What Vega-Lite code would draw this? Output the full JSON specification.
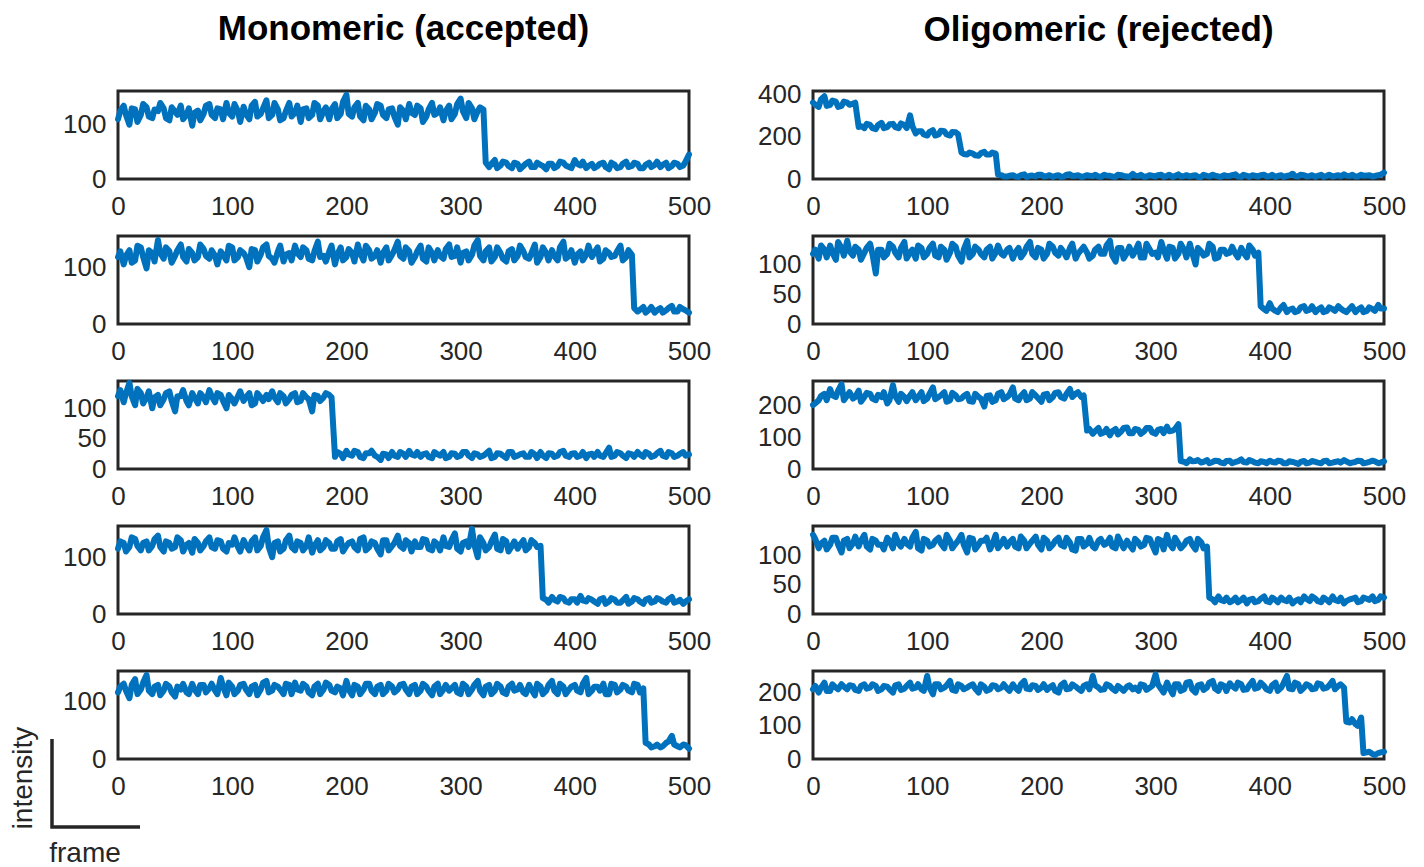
{
"$schema":"https://vega.github.io/schema/vega-lite/v6.json",
"padding":{"left":8,"top":10,"right":5,"bottom":5},
"background":"white",
"columns":2,
"spacing":{"row":57,"column":124},
"bounds":"flush",
"config":{
 "view":{"stroke":"#262626","strokeWidth":3},
 "axis":{"domain":false,"ticks":false,"grid":false,"labelFont":"Liberation Sans","labelFontSize":26,"labelColor":"#262626","labelFlush":false,"labelOverlap":false,"title":null},
 "axisX":{"labelPadding":14},
 "axisY":{"labelPadding":12},
 "title":{"font":"Liberation Sans","fontSize":35,"fontWeight":"bold","color":"#000000","anchor":"middle","frame":"group","baseline":"alphabetic"},
 "line":{"color":"#0072BD","strokeWidth":6,"strokeJoin":"round","strokeCap":"round"}
},
"datasets":{
"L1":[{"f":0,"v":110},{"f":5,"v":135},{"f":10,"v":100},{"f":15,"v":128},{"f":20,"v":118},{"f":25,"v":132},{"f":30,"v":112},{"f":35,"v":125},{"f":40,"v":130},{"f":45,"v":108},{"f":50,"v":124},{"f":55,"v":135},{"f":60,"v":118},{"f":65,"v":98},{"f":70,"v":126},{"f":75,"v":120},{"f":80,"v":138},{"f":85,"v":112},{"f":90,"v":128},{"f":95,"v":140},{"f":100,"v":115},{"f":105,"v":125},{"f":110,"v":133},{"f":115,"v":110},{"f":120,"v":142},{"f":125,"v":120},{"f":130,"v":145},{"f":135,"v":118},{"f":140,"v":128},{"f":145,"v":112},{"f":150,"v":140},{"f":155,"v":122},{"f":160,"v":105},{"f":165,"v":130},{"f":170,"v":118},{"f":175,"v":135},{"f":180,"v":125},{"f":185,"v":110},{"f":190,"v":138},{"f":195,"v":120},{"f":200,"v":155},{"f":205,"v":115},{"f":210,"v":140},{"f":215,"v":108},{"f":220,"v":128},{"f":225,"v":122},{"f":230,"v":135},{"f":235,"v":112},{"f":240,"v":130},{"f":245,"v":100},{"f":250,"v":125},{"f":255,"v":138},{"f":260,"v":118},{"f":265,"v":130},{"f":270,"v":115},{"f":275,"v":140},{"f":280,"v":122},{"f":285,"v":108},{"f":290,"v":135},{"f":295,"v":120},{"f":300,"v":148},{"f":305,"v":112},{"f":310,"v":130},{"f":315,"v":125},{"f":320,"v":128},{"f":325,"v":22},{"f":330,"v":35},{"f":335,"v":25},{"f":340,"v":30},{"f":345,"v":20},{"f":350,"v":28},{"f":355,"v":24},{"f":360,"v":32},{"f":365,"v":22},{"f":370,"v":26},{"f":375,"v":18},{"f":380,"v":28},{"f":385,"v":24},{"f":390,"v":30},{"f":395,"v":22},{"f":400,"v":35},{"f":405,"v":25},{"f":410,"v":20},{"f":415,"v":28},{"f":420,"v":24},{"f":425,"v":30},{"f":430,"v":18},{"f":435,"v":26},{"f":440,"v":22},{"f":445,"v":32},{"f":450,"v":24},{"f":455,"v":28},{"f":460,"v":20},{"f":465,"v":30},{"f":470,"v":26},{"f":475,"v":22},{"f":480,"v":30},{"f":485,"v":24},{"f":490,"v":28},{"f":495,"v":25},{"f":500,"v":45},
{"f":2,"v":125},{"f":7,"v":118},{"f":12,"v":130},{"f":17,"v":105},{"f":22,"v":138},{"f":27,"v":115},{"f":32,"v":128},{"f":37,"v":140},{"f":42,"v":112},{"f":47,"v":132},{"f":52,"v":118},{"f":57,"v":110},{"f":62,"v":130},{"f":67,"v":122},{"f":72,"v":108},{"f":77,"v":135},{"f":82,"v":118},{"f":87,"v":130},{"f":92,"v":110},{"f":97,"v":122},{"f":102,"v":138},{"f":107,"v":105},{"f":112,"v":120},{"f":117,"v":135},{"f":122,"v":115},{"f":127,"v":130},{"f":132,"v":112},{"f":137,"v":140},{"f":142,"v":108},{"f":147,"v":125},{"f":152,"v":115},{"f":157,"v":135},{"f":162,"v":128},{"f":167,"v":112},{"f":172,"v":140},{"f":177,"v":110},{"f":182,"v":132},{"f":187,"v":128},{"f":192,"v":112},{"f":197,"v":142},{"f":202,"v":120},{"f":207,"v":132},{"f":212,"v":115},{"f":217,"v":135},{"f":222,"v":110},{"f":227,"v":138},{"f":232,"v":118},{"f":237,"v":128},{"f":242,"v":115},{"f":247,"v":132},{"f":252,"v":110},{"f":257,"v":122},{"f":262,"v":135},{"f":267,"v":105},{"f":272,"v":128},{"f":277,"v":118},{"f":282,"v":132},{"f":287,"v":125},{"f":292,"v":110},{"f":297,"v":138},{"f":302,"v":125},{"f":307,"v":140},{"f":312,"v":110},{"f":317,"v":132},{"f":322,"v":30},{"f":327,"v":28},{"f":332,"v":20},{"f":337,"v":32},{"f":342,"v":24},{"f":347,"v":30},{"f":352,"v":18},{"f":357,"v":28},{"f":362,"v":22},{"f":367,"v":30},{"f":372,"v":24},{"f":377,"v":28},{"f":382,"v":20},{"f":387,"v":32},{"f":392,"v":25},{"f":397,"v":20},{"f":402,"v":28},{"f":407,"v":32},{"f":412,"v":24},{"f":417,"v":20},{"f":422,"v":28},{"f":427,"v":22},{"f":432,"v":30},{"f":437,"v":20},{"f":442,"v":28},{"f":447,"v":22},{"f":452,"v":30},{"f":457,"v":20},{"f":462,"v":26},{"f":467,"v":22},{"f":472,"v":32},{"f":477,"v":26},{"f":482,"v":20},{"f":487,"v":30},{"f":492,"v":22},{"f":497,"v":32}],
"L2":[{"f":0,"v":118},{"f":5,"v":105},{"f":10,"v":130},{"f":15,"v":112},{"f":20,"v":135},{"f":25,"v":98},{"f":30,"v":125},{"f":35,"v":148},{"f":40,"v":115},{"f":45,"v":128},{"f":50,"v":120},{"f":55,"v":140},{"f":60,"v":110},{"f":65,"v":125},{"f":70,"v":118},{"f":75,"v":132},{"f":80,"v":115},{"f":85,"v":120},{"f":90,"v":128},{"f":95,"v":112},{"f":100,"v":135},{"f":105,"v":118},{"f":110,"v":125},{"f":115,"v":100},{"f":120,"v":130},{"f":125,"v":122},{"f":130,"v":140},{"f":135,"v":115},{"f":140,"v":128},{"f":145,"v":110},{"f":150,"v":125},{"f":155,"v":138},{"f":160,"v":118},{"f":165,"v":130},{"f":170,"v":112},{"f":175,"v":145},{"f":180,"v":120},{"f":185,"v":128},{"f":190,"v":105},{"f":195,"v":135},{"f":200,"v":118},{"f":205,"v":125},{"f":210,"v":140},{"f":215,"v":112},{"f":220,"v":130},{"f":225,"v":120},{"f":230,"v":108},{"f":235,"v":135},{"f":240,"v":122},{"f":245,"v":145},{"f":250,"v":115},{"f":255,"v":128},{"f":260,"v":118},{"f":265,"v":138},{"f":270,"v":110},{"f":275,"v":125},{"f":280,"v":130},{"f":285,"v":115},{"f":290,"v":140},{"f":295,"v":120},{"f":300,"v":108},{"f":305,"v":128},{"f":310,"v":122},{"f":315,"v":148},{"f":320,"v":112},{"f":325,"v":135},{"f":330,"v":118},{"f":335,"v":125},{"f":340,"v":110},{"f":345,"v":132},{"f":350,"v":120},{"f":355,"v":128},{"f":360,"v":115},{"f":365,"v":140},{"f":370,"v":118},{"f":375,"v":125},{"f":380,"v":130},{"f":385,"v":112},{"f":390,"v":145},{"f":395,"v":120},{"f":400,"v":108},{"f":405,"v":128},{"f":410,"v":122},{"f":415,"v":118},{"f":420,"v":135},{"f":425,"v":115},{"f":430,"v":125},{"f":435,"v":120},{"f":440,"v":138},{"f":445,"v":118},{"f":450,"v":122},{"f":455,"v":22},{"f":460,"v":30},{"f":465,"v":25},{"f":470,"v":20},{"f":475,"v":28},{"f":480,"v":24},{"f":485,"v":32},{"f":490,"v":22},{"f":495,"v":26},{"f":500,"v":20},
{"f":2,"v":128},{"f":7,"v":120},{"f":12,"v":108},{"f":17,"v":138},{"f":22,"v":118},{"f":27,"v":130},{"f":32,"v":110},{"f":37,"v":125},{"f":42,"v":135},{"f":47,"v":108},{"f":52,"v":130},{"f":57,"v":118},{"f":62,"v":132},{"f":67,"v":112},{"f":72,"v":140},{"f":77,"v":120},{"f":82,"v":130},{"f":87,"v":105},{"f":92,"v":122},{"f":97,"v":138},{"f":102,"v":112},{"f":107,"v":130},{"f":112,"v":118},{"f":117,"v":132},{"f":122,"v":110},{"f":127,"v":135},{"f":132,"v":120},{"f":137,"v":108},{"f":142,"v":138},{"f":147,"v":122},{"f":152,"v":112},{"f":157,"v":125},{"f":162,"v":135},{"f":167,"v":115},{"f":172,"v":128},{"f":177,"v":118},{"f":182,"v":110},{"f":187,"v":138},{"f":192,"v":122},{"f":197,"v":112},{"f":202,"v":132},{"f":207,"v":110},{"f":212,"v":125},{"f":217,"v":138},{"f":222,"v":115},{"f":227,"v":130},{"f":232,"v":125},{"f":237,"v":112},{"f":242,"v":130},{"f":247,"v":120},{"f":252,"v":135},{"f":257,"v":108},{"f":262,"v":128},{"f":267,"v":115},{"f":272,"v":135},{"f":277,"v":112},{"f":282,"v":120},{"f":287,"v":132},{"f":292,"v":118},{"f":297,"v":135},{"f":302,"v":125},{"f":307,"v":112},{"f":312,"v":138},{"f":317,"v":120},{"f":322,"v":128},{"f":327,"v":110},{"f":332,"v":135},{"f":337,"v":115},{"f":342,"v":128},{"f":347,"v":112},{"f":352,"v":138},{"f":357,"v":118},{"f":362,"v":125},{"f":367,"v":108},{"f":372,"v":135},{"f":377,"v":112},{"f":382,"v":120},{"f":387,"v":135},{"f":392,"v":115},{"f":397,"v":130},{"f":402,"v":122},{"f":407,"v":112},{"f":412,"v":138},{"f":417,"v":125},{"f":422,"v":110},{"f":427,"v":130},{"f":432,"v":118},{"f":437,"v":128},{"f":442,"v":112},{"f":447,"v":130},{"f":452,"v":28},{"f":457,"v":25},{"f":462,"v":20},{"f":467,"v":30},{"f":472,"v":24},{"f":477,"v":20},{"f":482,"v":28},{"f":487,"v":22},{"f":492,"v":30},{"f":497,"v":24}],
"L3":[{"f":0,"v":120},{"f":5,"v":110},{"f":10,"v":142},{"f":15,"v":105},{"f":20,"v":125},{"f":25,"v":118},{"f":30,"v":100},{"f":35,"v":122},{"f":40,"v":115},{"f":45,"v":128},{"f":50,"v":95},{"f":55,"v":120},{"f":60,"v":112},{"f":65,"v":125},{"f":70,"v":108},{"f":75,"v":118},{"f":80,"v":130},{"f":85,"v":110},{"f":90,"v":122},{"f":95,"v":100},{"f":100,"v":115},{"f":105,"v":120},{"f":110,"v":112},{"f":115,"v":125},{"f":120,"v":108},{"f":125,"v":118},{"f":130,"v":122},{"f":135,"v":128},{"f":140,"v":110},{"f":145,"v":120},{"f":150,"v":115},{"f":155,"v":125},{"f":160,"v":112},{"f":165,"v":118},{"f":170,"v":95},{"f":175,"v":120},{"f":180,"v":118},{"f":185,"v":122},{"f":190,"v":20},{"f":195,"v":25},{"f":200,"v":30},{"f":205,"v":22},{"f":210,"v":28},{"f":215,"v":18},{"f":220,"v":26},{"f":225,"v":22},{"f":230,"v":15},{"f":235,"v":24},{"f":240,"v":28},{"f":245,"v":20},{"f":250,"v":25},{"f":255,"v":30},{"f":260,"v":22},{"f":265,"v":20},{"f":270,"v":26},{"f":275,"v":18},{"f":280,"v":24},{"f":285,"v":28},{"f":290,"v":20},{"f":295,"v":25},{"f":300,"v":22},{"f":305,"v":28},{"f":310,"v":18},{"f":315,"v":24},{"f":320,"v":22},{"f":325,"v":30},{"f":330,"v":20},{"f":335,"v":25},{"f":340,"v":18},{"f":345,"v":28},{"f":350,"v":22},{"f":355,"v":26},{"f":360,"v":20},{"f":365,"v":24},{"f":370,"v":28},{"f":375,"v":18},{"f":380,"v":25},{"f":385,"v":22},{"f":390,"v":30},{"f":395,"v":20},{"f":400,"v":26},{"f":405,"v":22},{"f":410,"v":18},{"f":415,"v":25},{"f":420,"v":28},{"f":425,"v":20},{"f":430,"v":35},{"f":435,"v":22},{"f":440,"v":26},{"f":445,"v":18},{"f":450,"v":24},{"f":455,"v":28},{"f":460,"v":20},{"f":465,"v":25},{"f":470,"v":22},{"f":475,"v":30},{"f":480,"v":20},{"f":485,"v":26},{"f":490,"v":22},{"f":495,"v":28},{"f":500,"v":24},
{"f":2,"v":130},{"f":7,"v":125},{"f":12,"v":120},{"f":17,"v":132},{"f":22,"v":108},{"f":27,"v":128},{"f":32,"v":118},{"f":37,"v":105},{"f":42,"v":125},{"f":47,"v":112},{"f":52,"v":120},{"f":57,"v":130},{"f":62,"v":105},{"f":67,"v":118},{"f":72,"v":125},{"f":77,"v":110},{"f":82,"v":120},{"f":87,"v":125},{"f":92,"v":112},{"f":97,"v":122},{"f":102,"v":108},{"f":107,"v":128},{"f":112,"v":118},{"f":117,"v":105},{"f":122,"v":125},{"f":127,"v":112},{"f":132,"v":115},{"f":137,"v":118},{"f":142,"v":125},{"f":147,"v":108},{"f":152,"v":122},{"f":157,"v":110},{"f":162,"v":125},{"f":167,"v":115},{"f":172,"v":122},{"f":177,"v":112},{"f":182,"v":125},{"f":187,"v":118},{"f":192,"v":28},{"f":197,"v":18},{"f":202,"v":24},{"f":207,"v":30},{"f":212,"v":20},{"f":217,"v":26},{"f":222,"v":30},{"f":227,"v":20},{"f":232,"v":25},{"f":237,"v":18},{"f":242,"v":22},{"f":247,"v":28},{"f":252,"v":20},{"f":257,"v":24},{"f":262,"v":28},{"f":267,"v":24},{"f":272,"v":20},{"f":277,"v":28},{"f":282,"v":22},{"f":287,"v":18},{"f":292,"v":26},{"f":297,"v":20},{"f":302,"v":28},{"f":307,"v":22},{"f":312,"v":26},{"f":317,"v":20},{"f":322,"v":25},{"f":327,"v":18},{"f":332,"v":26},{"f":337,"v":22},{"f":342,"v":28},{"f":347,"v":20},{"f":352,"v":24},{"f":357,"v":20},{"f":362,"v":28},{"f":367,"v":18},{"f":372,"v":22},{"f":377,"v":26},{"f":382,"v":20},{"f":387,"v":28},{"f":392,"v":22},{"f":397,"v":25},{"f":402,"v":20},{"f":407,"v":28},{"f":412,"v":24},{"f":417,"v":20},{"f":422,"v":22},{"f":427,"v":26},{"f":432,"v":20},{"f":437,"v":28},{"f":442,"v":22},{"f":447,"v":26},{"f":452,"v":20},{"f":457,"v":24},{"f":462,"v":28},{"f":467,"v":20},{"f":472,"v":26},{"f":477,"v":22},{"f":482,"v":28},{"f":487,"v":20},{"f":492,"v":25},{"f":497,"v":22}],
"L4":[{"f":0,"v":115},{"f":5,"v":125},{"f":10,"v":118},{"f":15,"v":132},{"f":20,"v":112},{"f":25,"v":128},{"f":30,"v":120},{"f":35,"v":138},{"f":40,"v":110},{"f":45,"v":125},{"f":50,"v":118},{"f":55,"v":130},{"f":60,"v":122},{"f":65,"v":108},{"f":70,"v":125},{"f":75,"v":120},{"f":80,"v":135},{"f":85,"v":115},{"f":90,"v":128},{"f":95,"v":110},{"f":100,"v":122},{"f":105,"v":118},{"f":110,"v":130},{"f":115,"v":112},{"f":120,"v":135},{"f":125,"v":120},{"f":130,"v":148},{"f":135,"v":100},{"f":140,"v":128},{"f":145,"v":115},{"f":150,"v":138},{"f":155,"v":112},{"f":160,"v":125},{"f":165,"v":120},{"f":170,"v":108},{"f":175,"v":130},{"f":180,"v":118},{"f":185,"v":125},{"f":190,"v":115},{"f":195,"v":132},{"f":200,"v":120},{"f":205,"v":128},{"f":210,"v":112},{"f":215,"v":135},{"f":220,"v":118},{"f":225,"v":125},{"f":230,"v":105},{"f":235,"v":130},{"f":240,"v":120},{"f":245,"v":138},{"f":250,"v":115},{"f":255,"v":125},{"f":260,"v":128},{"f":265,"v":118},{"f":270,"v":130},{"f":275,"v":112},{"f":280,"v":122},{"f":285,"v":135},{"f":290,"v":118},{"f":295,"v":142},{"f":300,"v":110},{"f":305,"v":128},{"f":310,"v":150},{"f":315,"v":100},{"f":320,"v":125},{"f":325,"v":118},{"f":330,"v":140},{"f":335,"v":112},{"f":340,"v":128},{"f":345,"v":120},{"f":350,"v":115},{"f":355,"v":130},{"f":360,"v":118},{"f":365,"v":125},{"f":370,"v":120},{"f":375,"v":25},{"f":380,"v":30},{"f":385,"v":22},{"f":390,"v":28},{"f":395,"v":20},{"f":400,"v":26},{"f":405,"v":32},{"f":410,"v":22},{"f":415,"v":25},{"f":420,"v":18},{"f":425,"v":28},{"f":430,"v":22},{"f":435,"v":25},{"f":440,"v":20},{"f":445,"v":30},{"f":450,"v":22},{"f":455,"v":26},{"f":460,"v":18},{"f":465,"v":28},{"f":470,"v":22},{"f":475,"v":25},{"f":480,"v":20},{"f":485,"v":30},{"f":490,"v":22},{"f":495,"v":18},{"f":500,"v":26},
{"f":2,"v":128},{"f":7,"v":110},{"f":12,"v":135},{"f":17,"v":120},{"f":22,"v":125},{"f":27,"v":112},{"f":32,"v":132},{"f":37,"v":118},{"f":42,"v":128},{"f":47,"v":115},{"f":52,"v":135},{"f":57,"v":110},{"f":62,"v":125},{"f":67,"v":132},{"f":72,"v":112},{"f":77,"v":128},{"f":82,"v":118},{"f":87,"v":130},{"f":92,"v":115},{"f":97,"v":125},{"f":102,"v":135},{"f":107,"v":110},{"f":112,"v":122},{"f":117,"v":128},{"f":122,"v":112},{"f":127,"v":135},{"f":132,"v":118},{"f":137,"v":125},{"f":142,"v":110},{"f":147,"v":130},{"f":152,"v":118},{"f":157,"v":128},{"f":162,"v":112},{"f":167,"v":135},{"f":172,"v":120},{"f":177,"v":112},{"f":182,"v":130},{"f":187,"v":115},{"f":192,"v":128},{"f":197,"v":110},{"f":202,"v":125},{"f":207,"v":118},{"f":212,"v":132},{"f":217,"v":112},{"f":222,"v":128},{"f":227,"v":115},{"f":232,"v":130},{"f":237,"v":112},{"f":242,"v":125},{"f":247,"v":120},{"f":252,"v":130},{"f":257,"v":110},{"f":262,"v":118},{"f":267,"v":132},{"f":272,"v":115},{"f":277,"v":128},{"f":282,"v":112},{"f":287,"v":120},{"f":292,"v":130},{"f":297,"v":115},{"f":302,"v":125},{"f":307,"v":118},{"f":312,"v":122},{"f":317,"v":135},{"f":322,"v":112},{"f":327,"v":128},{"f":332,"v":115},{"f":337,"v":132},{"f":342,"v":110},{"f":347,"v":128},{"f":352,"v":122},{"f":357,"v":112},{"f":362,"v":130},{"f":367,"v":118},{"f":372,"v":28},{"f":377,"v":20},{"f":382,"v":25},{"f":387,"v":30},{"f":392,"v":22},{"f":397,"v":26},{"f":402,"v":20},{"f":407,"v":24},{"f":412,"v":28},{"f":417,"v":22},{"f":422,"v":26},{"f":427,"v":18},{"f":432,"v":28},{"f":437,"v":20},{"f":442,"v":24},{"f":447,"v":18},{"f":452,"v":28},{"f":457,"v":22},{"f":462,"v":25},{"f":467,"v":20},{"f":472,"v":28},{"f":477,"v":22},{"f":482,"v":26},{"f":487,"v":20},{"f":492,"v":25},{"f":497,"v":22}],
"L5":[{"f":0,"v":115},{"f":5,"v":130},{"f":10,"v":105},{"f":15,"v":138},{"f":20,"v":120},{"f":25,"v":145},{"f":30,"v":112},{"f":35,"v":128},{"f":40,"v":118},{"f":45,"v":125},{"f":50,"v":108},{"f":55,"v":120},{"f":60,"v":115},{"f":65,"v":130},{"f":70,"v":112},{"f":75,"v":128},{"f":80,"v":122},{"f":85,"v":118},{"f":90,"v":140},{"f":95,"v":110},{"f":100,"v":125},{"f":105,"v":118},{"f":110,"v":130},{"f":115,"v":112},{"f":120,"v":128},{"f":125,"v":120},{"f":130,"v":135},{"f":135,"v":118},{"f":140,"v":125},{"f":145,"v":112},{"f":150,"v":128},{"f":155,"v":132},{"f":160,"v":118},{"f":165,"v":125},{"f":170,"v":110},{"f":175,"v":130},{"f":180,"v":120},{"f":185,"v":128},{"f":190,"v":115},{"f":195,"v":122},{"f":200,"v":135},{"f":205,"v":110},{"f":210,"v":125},{"f":215,"v":120},{"f":220,"v":130},{"f":225,"v":112},{"f":230,"v":128},{"f":235,"v":118},{"f":240,"v":125},{"f":245,"v":120},{"f":250,"v":130},{"f":255,"v":112},{"f":260,"v":128},{"f":265,"v":118},{"f":270,"v":125},{"f":275,"v":110},{"f":280,"v":130},{"f":285,"v":120},{"f":290,"v":118},{"f":295,"v":128},{"f":300,"v":112},{"f":305,"v":125},{"f":310,"v":120},{"f":315,"v":135},{"f":320,"v":110},{"f":325,"v":128},{"f":330,"v":118},{"f":335,"v":125},{"f":340,"v":112},{"f":345,"v":130},{"f":350,"v":120},{"f":355,"v":115},{"f":360,"v":128},{"f":365,"v":110},{"f":370,"v":125},{"f":375,"v":118},{"f":380,"v":135},{"f":385,"v":112},{"f":390,"v":125},{"f":395,"v":120},{"f":400,"v":128},{"f":405,"v":115},{"f":410,"v":140},{"f":415,"v":118},{"f":420,"v":125},{"f":425,"v":130},{"f":430,"v":112},{"f":435,"v":128},{"f":440,"v":120},{"f":445,"v":125},{"f":450,"v":115},{"f":455,"v":128},{"f":460,"v":122},{"f":465,"v":25},{"f":470,"v":22},{"f":475,"v":20},{"f":480,"v":28},{"f":485,"v":40},{"f":490,"v":22},{"f":495,"v":25},{"f":500,"v":18},
{"f":2,"v":125},{"f":7,"v":118},{"f":12,"v":128},{"f":17,"v":112},{"f":22,"v":132},{"f":27,"v":118},{"f":32,"v":125},{"f":37,"v":110},{"f":42,"v":130},{"f":47,"v":115},{"f":52,"v":125},{"f":57,"v":130},{"f":62,"v":112},{"f":67,"v":120},{"f":72,"v":128},{"f":77,"v":115},{"f":82,"v":130},{"f":87,"v":112},{"f":92,"v":125},{"f":97,"v":132},{"f":102,"v":112},{"f":107,"v":128},{"f":112,"v":120},{"f":117,"v":125},{"f":122,"v":110},{"f":127,"v":132},{"f":132,"v":115},{"f":137,"v":128},{"f":142,"v":120},{"f":147,"v":130},{"f":152,"v":112},{"f":157,"v":120},{"f":162,"v":130},{"f":167,"v":115},{"f":172,"v":125},{"f":177,"v":112},{"f":182,"v":132},{"f":187,"v":118},{"f":192,"v":125},{"f":197,"v":110},{"f":202,"v":120},{"f":207,"v":128},{"f":212,"v":112},{"f":217,"v":130},{"f":222,"v":118},{"f":227,"v":125},{"f":232,"v":112},{"f":237,"v":130},{"f":242,"v":115},{"f":247,"v":128},{"f":252,"v":120},{"f":257,"v":125},{"f":262,"v":112},{"f":267,"v":130},{"f":272,"v":118},{"f":277,"v":125},{"f":282,"v":112},{"f":287,"v":128},{"f":292,"v":122},{"f":297,"v":115},{"f":302,"v":130},{"f":307,"v":112},{"f":312,"v":128},{"f":317,"v":118},{"f":322,"v":125},{"f":327,"v":112},{"f":332,"v":130},{"f":337,"v":115},{"f":342,"v":125},{"f":347,"v":118},{"f":352,"v":128},{"f":357,"v":112},{"f":362,"v":120},{"f":367,"v":130},{"f":372,"v":112},{"f":377,"v":128},{"f":382,"v":118},{"f":387,"v":130},{"f":392,"v":112},{"f":397,"v":125},{"f":402,"v":118},{"f":407,"v":130},{"f":412,"v":112},{"f":417,"v":125},{"f":422,"v":118},{"f":427,"v":112},{"f":432,"v":130},{"f":437,"v":115},{"f":442,"v":128},{"f":447,"v":118},{"f":452,"v":130},{"f":457,"v":115},{"f":462,"v":28},{"f":467,"v":20},{"f":472,"v":25},{"f":477,"v":22},{"f":482,"v":30},{"f":487,"v":25},{"f":492,"v":20},{"f":497,"v":24}],
"R1":[{"f":0,"v":360},{"f":5,"v":340},{"f":10,"v":390},{"f":15,"v":350},{"f":20,"v":365},{"f":25,"v":345},{"f":30,"v":360},{"f":35,"v":355},{"f":40,"v":245},{"f":45,"v":240},{"f":50,"v":255},{"f":55,"v":235},{"f":60,"v":265},{"f":65,"v":245},{"f":70,"v":260},{"f":75,"v":240},{"f":80,"v":255},{"f":85,"v":300},{"f":90,"v":215},{"f":95,"v":225},{"f":100,"v":205},{"f":105,"v":230},{"f":110,"v":210},{"f":115,"v":225},{"f":120,"v":205},{"f":125,"v":220},{"f":130,"v":125},{"f":135,"v":115},{"f":140,"v":120},{"f":145,"v":110},{"f":150,"v":128},{"f":155,"v":115},{"f":160,"v":120},{"f":165,"v":18},{"f":170,"v":12},{"f":175,"v":18},{"f":180,"v":10},{"f":185,"v":22},{"f":190,"v":15},{"f":195,"v":12},{"f":200,"v":20},{"f":205,"v":14},{"f":210,"v":10},{"f":215,"v":18},{"f":220,"v":12},{"f":225,"v":22},{"f":230,"v":15},{"f":235,"v":10},{"f":240,"v":18},{"f":245,"v":14},{"f":250,"v":12},{"f":255,"v":20},{"f":260,"v":15},{"f":265,"v":10},{"f":270,"v":18},{"f":275,"v":12},{"f":280,"v":24},{"f":285,"v":14},{"f":290,"v":10},{"f":295,"v":18},{"f":300,"v":12},{"f":305,"v":20},{"f":310,"v":15},{"f":315,"v":10},{"f":320,"v":22},{"f":325,"v":14},{"f":330,"v":12},{"f":335,"v":18},{"f":340,"v":10},{"f":345,"v":15},{"f":350,"v":20},{"f":355,"v":12},{"f":360,"v":18},{"f":365,"v":14},{"f":370,"v":22},{"f":375,"v":10},{"f":380,"v":15},{"f":385,"v":18},{"f":390,"v":12},{"f":395,"v":20},{"f":400,"v":14},{"f":405,"v":10},{"f":410,"v":18},{"f":415,"v":15},{"f":420,"v":25},{"f":425,"v":12},{"f":430,"v":18},{"f":435,"v":14},{"f":440,"v":10},{"f":445,"v":20},{"f":450,"v":15},{"f":455,"v":12},{"f":460,"v":18},{"f":465,"v":22},{"f":470,"v":14},{"f":475,"v":12},{"f":480,"v":20},{"f":485,"v":16},{"f":490,"v":12},{"f":495,"v":18},{"f":500,"v":30},
{"f":2,"v":350},{"f":7,"v":375},{"f":12,"v":345},{"f":17,"v":370},{"f":22,"v":340},{"f":27,"v":365},{"f":32,"v":350},{"f":37,"v":360},{"f":42,"v":250},{"f":47,"v":260},{"f":52,"v":240},{"f":57,"v":255},{"f":62,"v":240},{"f":67,"v":258},{"f":72,"v":245},{"f":77,"v":262},{"f":82,"v":240},{"f":87,"v":250},{"f":92,"v":225},{"f":97,"v":210},{"f":102,"v":222},{"f":107,"v":205},{"f":112,"v":228},{"f":117,"v":210},{"f":122,"v":222},{"f":127,"v":212},{"f":132,"v":118},{"f":137,"v":125},{"f":142,"v":112},{"f":147,"v":122},{"f":152,"v":115},{"f":157,"v":125},{"f":162,"v":20},{"f":167,"v":12},{"f":172,"v":15},{"f":177,"v":12},{"f":182,"v":18},{"f":187,"v":10},{"f":192,"v":16},{"f":197,"v":20},{"f":202,"v":12},{"f":207,"v":18},{"f":212,"v":14},{"f":217,"v":10},{"f":222,"v":20},{"f":227,"v":14},{"f":232,"v":18},{"f":237,"v":12},{"f":242,"v":15},{"f":247,"v":20},{"f":252,"v":10},{"f":257,"v":16},{"f":262,"v":12},{"f":267,"v":20},{"f":272,"v":14},{"f":277,"v":10},{"f":282,"v":16},{"f":287,"v":20},{"f":292,"v":12},{"f":297,"v":15},{"f":302,"v":18},{"f":307,"v":10},{"f":312,"v":20},{"f":317,"v":14},{"f":322,"v":12},{"f":327,"v":18},{"f":332,"v":15},{"f":337,"v":10},{"f":342,"v":20},{"f":347,"v":12},{"f":352,"v":16},{"f":357,"v":10},{"f":362,"v":14},{"f":367,"v":18},{"f":372,"v":12},{"f":377,"v":20},{"f":382,"v":10},{"f":387,"v":15},{"f":392,"v":18},{"f":397,"v":12},{"f":402,"v":20},{"f":407,"v":14},{"f":412,"v":10},{"f":417,"v":16},{"f":422,"v":14},{"f":427,"v":20},{"f":432,"v":12},{"f":437,"v":18},{"f":442,"v":15},{"f":447,"v":10},{"f":452,"v":20},{"f":457,"v":14},{"f":462,"v":12},{"f":467,"v":16},{"f":472,"v":20},{"f":477,"v":12},{"f":482,"v":15},{"f":487,"v":18},{"f":492,"v":14},{"f":497,"v":20}],
"R2":[{"f":0,"v":118},{"f":5,"v":110},{"f":10,"v":125},{"f":15,"v":132},{"f":20,"v":108},{"f":25,"v":128},{"f":30,"v":140},{"f":35,"v":115},{"f":40,"v":125},{"f":45,"v":120},{"f":50,"v":135},{"f":55,"v":85},{"f":60,"v":125},{"f":65,"v":118},{"f":70,"v":130},{"f":75,"v":112},{"f":80,"v":138},{"f":85,"v":120},{"f":90,"v":110},{"f":95,"v":128},{"f":100,"v":118},{"f":105,"v":135},{"f":110,"v":112},{"f":115,"v":125},{"f":120,"v":120},{"f":125,"v":130},{"f":130,"v":105},{"f":135,"v":140},{"f":140,"v":118},{"f":145,"v":125},{"f":150,"v":112},{"f":155,"v":130},{"f":160,"v":120},{"f":165,"v":118},{"f":170,"v":125},{"f":175,"v":110},{"f":180,"v":128},{"f":185,"v":120},{"f":190,"v":138},{"f":195,"v":112},{"f":200,"v":125},{"f":205,"v":118},{"f":210,"v":130},{"f":215,"v":115},{"f":220,"v":120},{"f":225,"v":128},{"f":230,"v":110},{"f":235,"v":125},{"f":240,"v":120},{"f":245,"v":115},{"f":250,"v":130},{"f":255,"v":118},{"f":260,"v":140},{"f":265,"v":105},{"f":270,"v":128},{"f":275,"v":120},{"f":280,"v":115},{"f":285,"v":135},{"f":290,"v":112},{"f":295,"v":125},{"f":300,"v":120},{"f":305,"v":138},{"f":310,"v":110},{"f":315,"v":128},{"f":320,"v":118},{"f":325,"v":125},{"f":330,"v":135},{"f":335,"v":100},{"f":340,"v":122},{"f":345,"v":118},{"f":350,"v":130},{"f":355,"v":112},{"f":360,"v":125},{"f":365,"v":120},{"f":370,"v":118},{"f":375,"v":128},{"f":380,"v":112},{"f":385,"v":125},{"f":390,"v":120},{"f":395,"v":25},{"f":400,"v":35},{"f":405,"v":22},{"f":410,"v":28},{"f":415,"v":20},{"f":420,"v":26},{"f":425,"v":22},{"f":430,"v":30},{"f":435,"v":24},{"f":440,"v":20},{"f":445,"v":28},{"f":450,"v":22},{"f":455,"v":25},{"f":460,"v":30},{"f":465,"v":22},{"f":470,"v":26},{"f":475,"v":20},{"f":480,"v":28},{"f":485,"v":22},{"f":490,"v":25},{"f":495,"v":32},{"f":500,"v":26},
{"f":2,"v":125},{"f":7,"v":132},{"f":12,"v":112},{"f":17,"v":120},{"f":22,"v":138},{"f":27,"v":115},{"f":32,"v":122},{"f":37,"v":130},{"f":42,"v":108},{"f":47,"v":128},{"f":52,"v":118},{"f":57,"v":125},{"f":62,"v":112},{"f":67,"v":135},{"f":72,"v":120},{"f":77,"v":128},{"f":82,"v":110},{"f":87,"v":125},{"f":92,"v":132},{"f":97,"v":112},{"f":102,"v":128},{"f":107,"v":115},{"f":112,"v":130},{"f":117,"v":108},{"f":122,"v":135},{"f":127,"v":115},{"f":132,"v":125},{"f":137,"v":112},{"f":142,"v":130},{"f":147,"v":118},{"f":152,"v":125},{"f":157,"v":110},{"f":162,"v":132},{"f":167,"v":115},{"f":172,"v":128},{"f":177,"v":120},{"f":182,"v":112},{"f":187,"v":130},{"f":192,"v":118},{"f":197,"v":128},{"f":202,"v":110},{"f":207,"v":135},{"f":212,"v":120},{"f":217,"v":128},{"f":222,"v":112},{"f":227,"v":135},{"f":232,"v":118},{"f":237,"v":130},{"f":242,"v":110},{"f":247,"v":125},{"f":252,"v":118},{"f":257,"v":132},{"f":262,"v":115},{"f":267,"v":128},{"f":272,"v":110},{"f":277,"v":130},{"f":282,"v":122},{"f":287,"v":112},{"f":292,"v":135},{"f":297,"v":118},{"f":302,"v":112},{"f":307,"v":125},{"f":312,"v":130},{"f":317,"v":110},{"f":322,"v":135},{"f":327,"v":112},{"f":332,"v":120},{"f":337,"v":128},{"f":342,"v":115},{"f":347,"v":135},{"f":352,"v":110},{"f":357,"v":125},{"f":362,"v":118},{"f":367,"v":130},{"f":372,"v":112},{"f":377,"v":120},{"f":382,"v":132},{"f":387,"v":115},{"f":392,"v":30},{"f":397,"v":22},{"f":402,"v":26},{"f":407,"v":20},{"f":412,"v":32},{"f":417,"v":24},{"f":422,"v":20},{"f":427,"v":28},{"f":432,"v":22},{"f":437,"v":30},{"f":442,"v":24},{"f":447,"v":20},{"f":452,"v":28},{"f":457,"v":22},{"f":462,"v":26},{"f":467,"v":20},{"f":472,"v":30},{"f":477,"v":24},{"f":482,"v":20},{"f":487,"v":28},{"f":492,"v":22},{"f":497,"v":26}],
"R3":[{"f":0,"v":200},{"f":5,"v":215},{"f":10,"v":235},{"f":15,"v":250},{"f":20,"v":225},{"f":25,"v":265},{"f":30,"v":230},{"f":35,"v":220},{"f":40,"v":245},{"f":45,"v":225},{"f":50,"v":235},{"f":55,"v":215},{"f":60,"v":225},{"f":65,"v":205},{"f":70,"v":262},{"f":75,"v":210},{"f":80,"v":225},{"f":85,"v":230},{"f":90,"v":215},{"f":95,"v":240},{"f":100,"v":220},{"f":105,"v":255},{"f":110,"v":225},{"f":115,"v":240},{"f":120,"v":215},{"f":125,"v":230},{"f":130,"v":220},{"f":135,"v":235},{"f":140,"v":210},{"f":145,"v":225},{"f":150,"v":195},{"f":155,"v":230},{"f":160,"v":215},{"f":165,"v":240},{"f":170,"v":225},{"f":175,"v":255},{"f":180,"v":215},{"f":185,"v":240},{"f":190,"v":220},{"f":195,"v":230},{"f":200,"v":210},{"f":205,"v":235},{"f":210,"v":225},{"f":215,"v":240},{"f":220,"v":220},{"f":225,"v":250},{"f":230,"v":235},{"f":235,"v":225},{"f":240,"v":120},{"f":245,"v":110},{"f":250,"v":128},{"f":255,"v":115},{"f":260,"v":105},{"f":265,"v":125},{"f":270,"v":118},{"f":275,"v":130},{"f":280,"v":112},{"f":285,"v":122},{"f":290,"v":118},{"f":295,"v":128},{"f":300,"v":110},{"f":305,"v":125},{"f":310,"v":132},{"f":315,"v":120},{"f":320,"v":140},{"f":325,"v":22},{"f":330,"v":30},{"f":335,"v":25},{"f":340,"v":20},{"f":345,"v":28},{"f":350,"v":22},{"f":355,"v":25},{"f":360,"v":18},{"f":365,"v":26},{"f":370,"v":22},{"f":375,"v":30},{"f":380,"v":20},{"f":385,"v":24},{"f":390,"v":18},{"f":395,"v":22},{"f":400,"v":26},{"f":405,"v":20},{"f":410,"v":24},{"f":415,"v":18},{"f":420,"v":22},{"f":425,"v":16},{"f":430,"v":25},{"f":435,"v":20},{"f":440,"v":22},{"f":445,"v":18},{"f":450,"v":26},{"f":455,"v":20},{"f":460,"v":24},{"f":465,"v":28},{"f":470,"v":18},{"f":475,"v":22},{"f":480,"v":25},{"f":485,"v":20},{"f":490,"v":26},{"f":495,"v":18},{"f":500,"v":24},
{"f":2,"v":205},{"f":7,"v":228},{"f":12,"v":215},{"f":17,"v":230},{"f":22,"v":245},{"f":27,"v":215},{"f":32,"v":240},{"f":37,"v":225},{"f":42,"v":210},{"f":47,"v":238},{"f":52,"v":220},{"f":57,"v":232},{"f":62,"v":240},{"f":67,"v":215},{"f":72,"v":228},{"f":77,"v":235},{"f":82,"v":212},{"f":87,"v":240},{"f":92,"v":225},{"f":97,"v":212},{"f":102,"v":235},{"f":107,"v":218},{"f":112,"v":230},{"f":117,"v":210},{"f":122,"v":238},{"f":127,"v":218},{"f":132,"v":228},{"f":137,"v":212},{"f":142,"v":235},{"f":147,"v":220},{"f":152,"v":228},{"f":157,"v":210},{"f":162,"v":235},{"f":167,"v":218},{"f":172,"v":232},{"f":177,"v":220},{"f":182,"v":228},{"f":187,"v":215},{"f":192,"v":240},{"f":197,"v":222},{"f":202,"v":232},{"f":207,"v":215},{"f":212,"v":238},{"f":217,"v":225},{"f":222,"v":235},{"f":227,"v":225},{"f":232,"v":240},{"f":237,"v":230},{"f":242,"v":125},{"f":247,"v":118},{"f":252,"v":110},{"f":257,"v":125},{"f":262,"v":118},{"f":267,"v":108},{"f":272,"v":128},{"f":277,"v":112},{"f":282,"v":125},{"f":287,"v":110},{"f":292,"v":128},{"f":297,"v":115},{"f":302,"v":122},{"f":307,"v":112},{"f":312,"v":118},{"f":317,"v":125},{"f":322,"v":25},{"f":327,"v":18},{"f":332,"v":24},{"f":337,"v":28},{"f":342,"v":22},{"f":347,"v":18},{"f":352,"v":26},{"f":357,"v":20},{"f":362,"v":25},{"f":367,"v":18},{"f":372,"v":24},{"f":377,"v":22},{"f":382,"v":28},{"f":387,"v":20},{"f":392,"v":24},{"f":397,"v":18},{"f":402,"v":22},{"f":407,"v":26},{"f":412,"v":18},{"f":417,"v":24},{"f":422,"v":20},{"f":427,"v":22},{"f":432,"v":18},{"f":437,"v":25},{"f":442,"v":20},{"f":447,"v":24},{"f":452,"v":18},{"f":457,"v":22},{"f":462,"v":20},{"f":467,"v":24},{"f":472,"v":20},{"f":477,"v":26},{"f":482,"v":18},{"f":487,"v":22},{"f":492,"v":24},{"f":497,"v":20}],
"R4":[{"f":0,"v":135},{"f":5,"v":112},{"f":10,"v":125},{"f":15,"v":118},{"f":20,"v":130},{"f":25,"v":105},{"f":30,"v":128},{"f":35,"v":120},{"f":40,"v":115},{"f":45,"v":135},{"f":50,"v":110},{"f":55,"v":125},{"f":60,"v":118},{"f":65,"v":130},{"f":70,"v":112},{"f":75,"v":120},{"f":80,"v":128},{"f":85,"v":115},{"f":90,"v":140},{"f":95,"v":108},{"f":100,"v":125},{"f":105,"v":118},{"f":110,"v":130},{"f":115,"v":112},{"f":120,"v":125},{"f":125,"v":120},{"f":130,"v":135},{"f":135,"v":105},{"f":140,"v":128},{"f":145,"v":118},{"f":150,"v":125},{"f":155,"v":110},{"f":160,"v":135},{"f":165,"v":120},{"f":170,"v":115},{"f":175,"v":128},{"f":180,"v":112},{"f":185,"v":125},{"f":190,"v":120},{"f":195,"v":132},{"f":200,"v":110},{"f":205,"v":125},{"f":210,"v":118},{"f":215,"v":130},{"f":220,"v":115},{"f":225,"v":122},{"f":230,"v":108},{"f":235,"v":128},{"f":240,"v":120},{"f":245,"v":115},{"f":250,"v":125},{"f":255,"v":118},{"f":260,"v":130},{"f":265,"v":112},{"f":270,"v":120},{"f":275,"v":125},{"f":280,"v":110},{"f":285,"v":122},{"f":290,"v":118},{"f":295,"v":128},{"f":300,"v":105},{"f":305,"v":125},{"f":310,"v":135},{"f":315,"v":112},{"f":320,"v":120},{"f":325,"v":118},{"f":330,"v":128},{"f":335,"v":110},{"f":340,"v":122},{"f":345,"v":115},{"f":350,"v":25},{"f":355,"v":30},{"f":360,"v":22},{"f":365,"v":20},{"f":370,"v":28},{"f":375,"v":24},{"f":380,"v":18},{"f":385,"v":26},{"f":390,"v":22},{"f":395,"v":30},{"f":400,"v":20},{"f":405,"v":24},{"f":410,"v":28},{"f":415,"v":22},{"f":420,"v":18},{"f":425,"v":25},{"f":430,"v":30},{"f":435,"v":22},{"f":440,"v":26},{"f":445,"v":20},{"f":450,"v":24},{"f":455,"v":30},{"f":460,"v":22},{"f":465,"v":18},{"f":470,"v":25},{"f":475,"v":28},{"f":480,"v":22},{"f":485,"v":26},{"f":490,"v":30},{"f":495,"v":24},{"f":500,"v":28},
{"f":2,"v":128},{"f":7,"v":120},{"f":12,"v":110},{"f":17,"v":130},{"f":22,"v":118},{"f":27,"v":125},{"f":32,"v":112},{"f":37,"v":132},{"f":42,"v":125},{"f":47,"v":115},{"f":52,"v":128},{"f":57,"v":118},{"f":62,"v":110},{"f":67,"v":125},{"f":72,"v":135},{"f":77,"v":115},{"f":82,"v":120},{"f":87,"v":130},{"f":92,"v":112},{"f":97,"v":128},{"f":102,"v":115},{"f":107,"v":125},{"f":112,"v":120},{"f":117,"v":135},{"f":122,"v":112},{"f":127,"v":125},{"f":132,"v":118},{"f":137,"v":130},{"f":142,"v":110},{"f":147,"v":125},{"f":152,"v":130},{"f":157,"v":118},{"f":162,"v":112},{"f":167,"v":128},{"f":172,"v":122},{"f":177,"v":115},{"f":182,"v":132},{"f":187,"v":112},{"f":192,"v":125},{"f":197,"v":118},{"f":202,"v":130},{"f":207,"v":112},{"f":212,"v":125},{"f":217,"v":118},{"f":222,"v":130},{"f":227,"v":110},{"f":232,"v":128},{"f":237,"v":115},{"f":242,"v":130},{"f":247,"v":112},{"f":252,"v":128},{"f":257,"v":120},{"f":262,"v":115},{"f":267,"v":132},{"f":272,"v":112},{"f":277,"v":118},{"f":282,"v":128},{"f":287,"v":115},{"f":292,"v":130},{"f":297,"v":118},{"f":302,"v":128},{"f":307,"v":110},{"f":312,"v":120},{"f":317,"v":130},{"f":322,"v":112},{"f":327,"v":125},{"f":332,"v":118},{"f":337,"v":128},{"f":342,"v":112},{"f":347,"v":28},{"f":352,"v":20},{"f":357,"v":24},{"f":362,"v":28},{"f":367,"v":22},{"f":372,"v":20},{"f":377,"v":28},{"f":382,"v":24},{"f":387,"v":20},{"f":392,"v":26},{"f":397,"v":22},{"f":402,"v":28},{"f":407,"v":20},{"f":412,"v":24},{"f":417,"v":28},{"f":422,"v":22},{"f":427,"v":20},{"f":432,"v":26},{"f":437,"v":30},{"f":442,"v":22},{"f":447,"v":28},{"f":452,"v":20},{"f":457,"v":24},{"f":462,"v":28},{"f":467,"v":22},{"f":472,"v":26},{"f":477,"v":20},{"f":482,"v":28},{"f":487,"v":24},{"f":492,"v":22},{"f":497,"v":30}],
"R5":[{"f":0,"v":210},{"f":5,"v":200},{"f":10,"v":230},{"f":15,"v":205},{"f":20,"v":215},{"f":25,"v":225},{"f":30,"v":210},{"f":35,"v":220},{"f":40,"v":205},{"f":45,"v":225},{"f":50,"v":215},{"f":55,"v":220},{"f":60,"v":210},{"f":65,"v":218},{"f":70,"v":200},{"f":75,"v":225},{"f":80,"v":212},{"f":85,"v":230},{"f":90,"v":215},{"f":95,"v":210},{"f":100,"v":250},{"f":105,"v":195},{"f":110,"v":225},{"f":115,"v":215},{"f":120,"v":235},{"f":125,"v":205},{"f":130,"v":220},{"f":135,"v":215},{"f":140,"v":225},{"f":145,"v":200},{"f":150,"v":218},{"f":155,"v":210},{"f":160,"v":220},{"f":165,"v":215},{"f":170,"v":212},{"f":175,"v":225},{"f":180,"v":205},{"f":185,"v":235},{"f":190,"v":210},{"f":195,"v":220},{"f":200,"v":215},{"f":205,"v":208},{"f":210,"v":222},{"f":215,"v":200},{"f":220,"v":230},{"f":225,"v":212},{"f":230,"v":218},{"f":235,"v":205},{"f":240,"v":225},{"f":245,"v":250},{"f":250,"v":215},{"f":255,"v":210},{"f":260,"v":220},{"f":265,"v":205},{"f":270,"v":212},{"f":275,"v":218},{"f":280,"v":210},{"f":285,"v":205},{"f":290,"v":222},{"f":295,"v":215},{"f":300,"v":255},{"f":305,"v":210},{"f":310,"v":230},{"f":315,"v":195},{"f":320,"v":225},{"f":325,"v":210},{"f":330,"v":232},{"f":335,"v":200},{"f":340,"v":225},{"f":345,"v":215},{"f":350,"v":235},{"f":355,"v":205},{"f":360,"v":220},{"f":365,"v":228},{"f":370,"v":212},{"f":375,"v":225},{"f":380,"v":210},{"f":385,"v":235},{"f":390,"v":215},{"f":395,"v":220},{"f":400,"v":205},{"f":405,"v":230},{"f":410,"v":215},{"f":415,"v":250},{"f":420,"v":210},{"f":425,"v":225},{"f":430,"v":215},{"f":435,"v":220},{"f":440,"v":212},{"f":445,"v":225},{"f":450,"v":215},{"f":455,"v":235},{"f":460,"v":220},{"f":465,"v":215},{"f":470,"v":110},{"f":475,"v":105},{"f":480,"v":125},{"f":485,"v":20},{"f":490,"v":15},{"f":495,"v":18},{"f":500,"v":22},
{"f":2,"v":220},{"f":7,"v":215},{"f":12,"v":205},{"f":17,"v":225},{"f":22,"v":210},{"f":27,"v":218},{"f":32,"v":222},{"f":37,"v":208},{"f":42,"v":220},{"f":47,"v":212},{"f":52,"v":225},{"f":57,"v":205},{"f":62,"v":220},{"f":67,"v":210},{"f":72,"v":222},{"f":77,"v":208},{"f":82,"v":220},{"f":87,"v":212},{"f":92,"v":225},{"f":97,"v":205},{"f":102,"v":215},{"f":107,"v":225},{"f":112,"v":210},{"f":117,"v":222},{"f":122,"v":208},{"f":127,"v":225},{"f":132,"v":210},{"f":137,"v":220},{"f":142,"v":212},{"f":147,"v":225},{"f":152,"v":205},{"f":157,"v":222},{"f":162,"v":210},{"f":167,"v":225},{"f":172,"v":205},{"f":177,"v":215},{"f":182,"v":225},{"f":187,"v":212},{"f":192,"v":222},{"f":197,"v":208},{"f":202,"v":225},{"f":207,"v":215},{"f":212,"v":205},{"f":217,"v":222},{"f":222,"v":210},{"f":227,"v":225},{"f":232,"v":212},{"f":237,"v":220},{"f":242,"v":210},{"f":247,"v":222},{"f":252,"v":208},{"f":257,"v":225},{"f":262,"v":212},{"f":267,"v":220},{"f":272,"v":205},{"f":277,"v":222},{"f":282,"v":215},{"f":287,"v":225},{"f":292,"v":208},{"f":297,"v":220},{"f":302,"v":225},{"f":307,"v":200},{"f":312,"v":215},{"f":317,"v":225},{"f":322,"v":205},{"f":327,"v":230},{"f":332,"v":210},{"f":337,"v":222},{"f":342,"v":208},{"f":347,"v":230},{"f":352,"v":212},{"f":357,"v":225},{"f":362,"v":205},{"f":367,"v":220},{"f":372,"v":230},{"f":377,"v":208},{"f":382,"v":222},{"f":387,"v":212},{"f":392,"v":230},{"f":397,"v":210},{"f":402,"v":222},{"f":407,"v":205},{"f":412,"v":228},{"f":417,"v":212},{"f":422,"v":230},{"f":427,"v":205},{"f":432,"v":225},{"f":437,"v":210},{"f":442,"v":228},{"f":447,"v":212},{"f":452,"v":222},{"f":457,"v":210},{"f":462,"v":225},{"f":467,"v":112},{"f":472,"v":120},{"f":477,"v":100},{"f":482,"v":18},{"f":487,"v":22},{"f":492,"v":12},{"f":497,"v":20}],
"scalebar":[{"k":0,"f":-57.8,"v":34.5},{"k":1,"f":-57.8,"v":-117.5},{"k":2,"f":19.3,"v":-117.5}],
"scaleY":[{"f":-82.3,"v":-32.8,"label":"intensity"}],
"scaleX":[{"f":-28.9,"v":-164,"label":"frame"}]
},
"concat":[
{"width":571,"height":88,"title":{"text":"Monomeric (accepted)","offset":44},"data":{"name":"L1"},"mark":"line",
 "encoding":{"x":{"field":"f","type":"quantitative","scale":{"domain":[0,500],"nice":false},"axis":{"values":[0,100,200,300,400,500]}},
 "y":{"field":"v","type":"quantitative","scale":{"domain":[0,162],"nice":false},"axis":{"values":[0,100]}}}},
{"width":571,"height":88,"title":{"text":"Oligomeric (rejected)","offset":33},"data":{"name":"R1"},"mark":"line",
 "encoding":{"x":{"field":"f","type":"quantitative","scale":{"domain":[0,500],"nice":false},"axis":{"values":[0,100,200,300,400,500]}},
 "y":{"field":"v","type":"quantitative","scale":{"domain":[0,415],"nice":false},"axis":{"values":[0,200,400]}}}},
{"width":571,"height":88,"data":{"name":"L2"},"mark":"line",
 "encoding":{"x":{"field":"f","type":"quantitative","scale":{"domain":[0,500],"nice":false},"axis":{"values":[0,100,200,300,400,500]}},
 "y":{"field":"v","type":"quantitative","scale":{"domain":[0,155],"nice":false},"axis":{"values":[0,100]}}}},
{"width":571,"height":88,"data":{"name":"R2"},"mark":"line",
 "encoding":{"x":{"field":"f","type":"quantitative","scale":{"domain":[0,500],"nice":false},"axis":{"values":[0,100,200,300,400,500]}},
 "y":{"field":"v","type":"quantitative","scale":{"domain":[0,148],"nice":false},"axis":{"values":[0,50,100]}}}},
{"width":571,"height":88,"data":{"name":"L3"},"mark":"line",
 "encoding":{"x":{"field":"f","type":"quantitative","scale":{"domain":[0,500],"nice":false},"axis":{"values":[0,100,200,300,400,500]}},
 "y":{"field":"v","type":"quantitative","scale":{"domain":[0,145],"nice":false},"axis":{"values":[0,50,100]}}}},
{"width":571,"height":88,"data":{"name":"R3"},"mark":"line",
 "encoding":{"x":{"field":"f","type":"quantitative","scale":{"domain":[0,500],"nice":false},"axis":{"values":[0,100,200,300,400,500]}},
 "y":{"field":"v","type":"quantitative","scale":{"domain":[0,275],"nice":false},"axis":{"values":[0,100,200]}}}},
{"width":571,"height":88,"data":{"name":"L4"},"mark":"line",
 "encoding":{"x":{"field":"f","type":"quantitative","scale":{"domain":[0,500],"nice":false},"axis":{"values":[0,100,200,300,400,500]}},
 "y":{"field":"v","type":"quantitative","scale":{"domain":[0,155],"nice":false},"axis":{"values":[0,100]}}}},
{"width":571,"height":88,"data":{"name":"R4"},"mark":"line",
 "encoding":{"x":{"field":"f","type":"quantitative","scale":{"domain":[0,500],"nice":false},"axis":{"values":[0,100,200,300,400,500]}},
 "y":{"field":"v","type":"quantitative","scale":{"domain":[0,150],"nice":false},"axis":{"values":[0,50,100]}}}},
{"width":571,"height":88,
 "encoding":{"x":{"field":"f","type":"quantitative","scale":{"domain":[0,500],"nice":false},"axis":{"values":[0,100,200,300,400,500]}},
 "y":{"field":"v","type":"quantitative","scale":{"domain":[0,152],"nice":false},"axis":{"values":[0,100]}}},
 "layer":[
  {"data":{"name":"L5"},"mark":"line"},
  {"data":{"name":"scalebar"},"mark":{"type":"line","color":"#262626","strokeWidth":3.5,"strokeCap":"butt","strokeJoin":"miter"},"encoding":{"order":{"field":"k","type":"quantitative"}}},
  {"data":{"name":"scaleY"},"mark":{"type":"text","angle":270,"font":"Liberation Sans","fontSize":28,"color":"#262626","align":"center","baseline":"middle"},"encoding":{"text":{"field":"label"}}},
  {"data":{"name":"scaleX"},"mark":{"type":"text","font":"Liberation Sans","fontSize":28,"color":"#262626","align":"center","baseline":"middle"},"encoding":{"text":{"field":"label"}}}
 ]},
{"width":571,"height":88,"data":{"name":"R5"},"mark":"line",
 "encoding":{"x":{"field":"f","type":"quantitative","scale":{"domain":[0,500],"nice":false},"axis":{"values":[0,100,200,300,400,500]}},
 "y":{"field":"v","type":"quantitative","scale":{"domain":[0,265],"nice":false},"axis":{"values":[0,100,200]}}}}
]
}
